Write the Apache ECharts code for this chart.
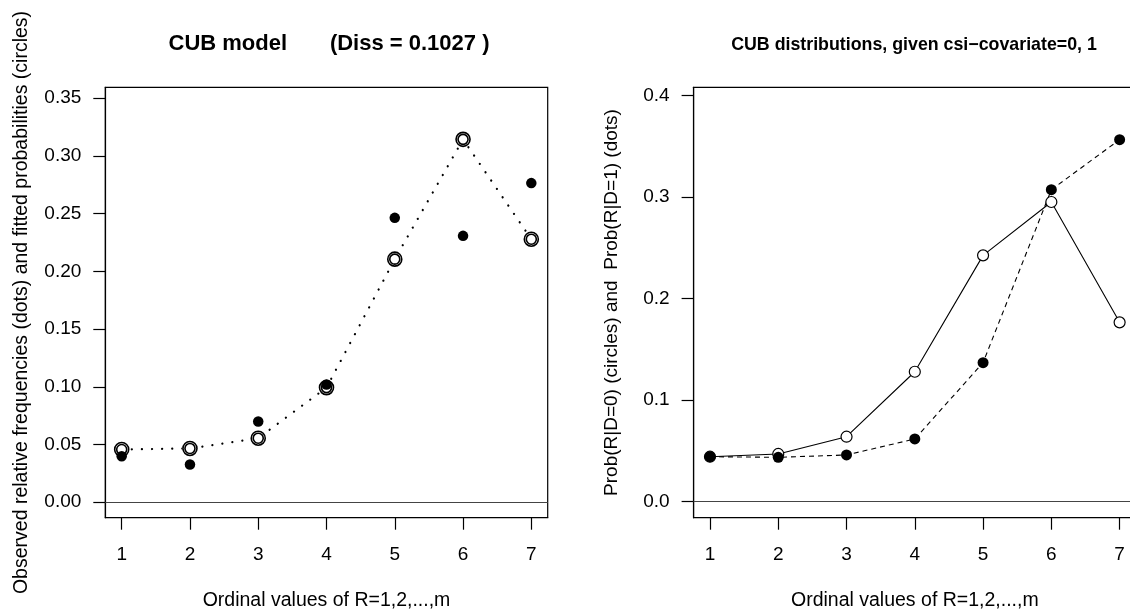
<!DOCTYPE html>
<html>
<head>
<meta charset="utf-8">
<script src="https://cdn.jsdelivr.net/npm/echarts@6/dist/echarts.min.js"></script>
<style>
html,body{margin:0;padding:0;background:#fff;}
#chart{width:1130px;height:610px;}
</style>
</head>
<body>
<div id="chart"></div>
<script>
// ---- data ----
const categories = [1, 2, 3, 4, 5, 6, 7];
const fittedProb   = [0.0457, 0.0466, 0.0555, 0.0993, 0.2106, 0.3144, 0.2279];
const observedFreq = [0.0399, 0.0327, 0.0700, 0.1019, 0.2464, 0.2308, 0.2765];
const probD0 = [0.0443, 0.0470, 0.0640, 0.1280, 0.2427, 0.2953, 0.1767];
const probD1 = [0.0443, 0.0437, 0.0460, 0.0618, 0.1370, 0.3074, 0.3567];
const xTicks = [1, 2, 3, 4, 5, 6, 7];
const leftYTicks = [0, 0.05, 0.10, 0.15, 0.20, 0.25, 0.30, 0.35];
const rightYTicks = [0, 0.1, 0.2, 0.3, 0.4];
const leftTitle = 'CUB model       (Diss = 0.1027 )';
const rightTitle = 'CUB distributions, given csi\u2212covariate=0, 1';
const xName = 'Ordinal values of R=1,2,...,m';
const leftYName = 'Observed relative frequencies (dots) and fitted probabilities (circles)';
const rightYName = 'Prob(R|D=0) (circles) and  Prob(R|D=1) (dots)';

const pairs = arr => categories.map((c, i) => [c, arr[i]]);
const FONT = 'Liberation Sans, Arial, Helvetica, sans-serif';
const axisLineStyle = { color: '#000', width: 1.2 };

function xAxisCfg(gi) {
  return {
    type: 'value', gridIndex: gi, min: 0.76, max: 7.24,
    axisLine: { show: true, onZero: false, lineStyle: axisLineStyle },
    axisTick: { show: true, length: 12, customValues: xTicks, lineStyle: axisLineStyle },
    axisLabel: { customValues: xTicks, fontSize: 19, color: '#000', fontFamily: FONT, margin: 28,
      formatter: v => String(Math.round(v)) },
    splitLine: { show: false },
    name: xName, nameLocation: 'middle', nameGap: 73,
    nameTextStyle: { fontSize: 19.5, color: '#000', fontFamily: FONT }
  };
}
function yAxisCfg(gi, min, max, ticks, dec, name, gap, nsize) {
  return {
    type: 'value', gridIndex: gi, min: min, max: max,
    axisLine: { show: true, onZero: false, lineStyle: axisLineStyle },
    axisTick: { show: true, length: 12, customValues: ticks, lineStyle: axisLineStyle },
    axisLabel: { customValues: ticks, fontSize: 19, color: '#000', fontFamily: FONT, margin: 24,
      formatter: v => Number(v).toFixed(dec) },
    splitLine: { show: false },
    name: name, nameLocation: 'middle', nameGap: gap, nameRotate: 90,
    nameTextStyle: { fontSize: nsize, color: '#000', fontFamily: FONT }
  };
}
const zeroLine = {
  silent: true, symbol: 'none', label: { show: false },
  lineStyle: { color: '#444', width: 1.2, type: 'solid' },
  data: [{ yAxis: 0 }]
};

const chart = echarts.init(document.getElementById('chart'), null, { renderer: 'canvas' });
chart.setOption({
  backgroundColor: '#fff',
  animation: false,
  title: [
    { text: leftTitle, left: 324, top: 28, textAlign: 'center',
      textStyle: { fontSize: 22, fontWeight: 'bold', color: '#000', fontFamily: FONT } },
    { text: rightTitle, left: 909, top: 31, textAlign: 'center',
      textStyle: { fontSize: 17.8, fontWeight: 'bold', color: '#000', fontFamily: FONT } }
  ],
  grid: [
    { left: 105.3, top: 87.3, width: 442.4, height: 430.4, show: true, containLabel: false,
      outerBoundsMode: 'none',
      borderColor: '#000', borderWidth: 1.2, backgroundColor: 'transparent' },
    { left: 693.6, top: 87.3, width: 442.4, height: 430.4, show: true, containLabel: false,
      outerBoundsMode: 'none',
      borderColor: '#000', borderWidth: 1.2, backgroundColor: 'transparent' }
  ],
  xAxis: [xAxisCfg(0), xAxisCfg(1)],
  yAxis: [
    yAxisCfg(0, -0.0134, 0.3595, leftYTicks, 2, leftYName, 74, 19.5),
    yAxisCfg(1, -0.0158, 0.4083, rightYTicks, 1, rightYName, 72, 19)
  ],
  series: [
    // ----- left panel -----
    { type: 'line', xAxisIndex: 0, yAxisIndex: 0, data: pairs(fittedProb), showSymbol: false,
      lineStyle: { color: '#000', width: 2.2, type: [0.1, 10], cap: 'round' }, markLine: zeroLine, z: 2 },
    { type: 'scatter', xAxisIndex: 0, yAxisIndex: 0, data: pairs(fittedProb), symbol: 'circle',
      symbolSize: 15, itemStyle: { color: '#fff', borderWidth: 0, opacity: 1 }, z: 3 },
    { type: 'scatter', xAxisIndex: 0, yAxisIndex: 0, data: pairs(observedFreq), symbol: 'circle',
      symbolSize: 10.5, itemStyle: { color: '#000', opacity: 1 }, z: 4 },
    { type: 'scatter', xAxisIndex: 0, yAxisIndex: 0, data: pairs(fittedProb), symbol: 'circle',
      symbolSize: 14, itemStyle: { color: 'transparent', borderColor: '#000', borderWidth: 1.6, opacity: 1 }, z: 5 },
    { type: 'scatter', xAxisIndex: 0, yAxisIndex: 0, data: pairs(fittedProb), symbol: 'circle',
      symbolSize: 10, itemStyle: { color: 'transparent', borderColor: '#000', borderWidth: 1.6, opacity: 1 }, z: 5 },
    // ----- right panel -----
    { type: 'line', xAxisIndex: 1, yAxisIndex: 1, data: pairs(probD0), showSymbol: false,
      lineStyle: { color: '#000', width: 1.1, type: 'solid' }, markLine: zeroLine, z: 2 },
    { type: 'line', xAxisIndex: 1, yAxisIndex: 1, data: pairs(probD1), showSymbol: false,
      lineStyle: { color: '#000', width: 1.1, type: [5, 4] }, z: 2 },
    { type: 'scatter', xAxisIndex: 1, yAxisIndex: 1, data: pairs(probD0), symbol: 'circle',
      symbolSize: 11, itemStyle: { color: '#fff', borderColor: '#000', borderWidth: 1.2, opacity: 1 }, z: 3 },
    { type: 'scatter', xAxisIndex: 1, yAxisIndex: 1, data: pairs(probD1), symbol: 'circle',
      symbolSize: 11, itemStyle: { color: '#000', opacity: 1 }, z: 4 }
  ]
});
</script>
</body>
</html>
